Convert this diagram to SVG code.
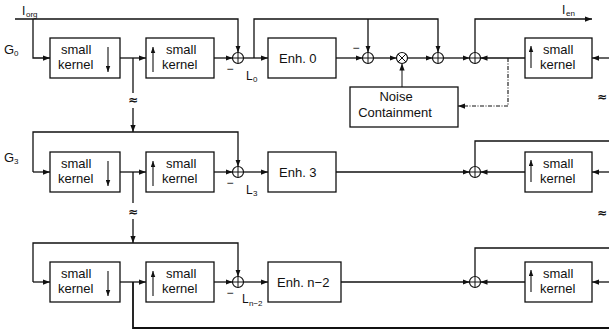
<svg xmlns="http://www.w3.org/2000/svg" width="609" height="334" viewBox="0 0 609 334">
<defs>
<marker id="a" viewBox="0 0 8 6" refX="8" refY="3" markerWidth="7" markerHeight="5.5" markerUnits="userSpaceOnUse" orient="auto"><path d="M0,0 L8,3 L0,6 z" fill="#111"/></marker>
<marker id="s" viewBox="0 0 8 6" refX="8" refY="3" markerWidth="6" markerHeight="5" markerUnits="userSpaceOnUse" orient="auto"><path d="M0,0 L8,3 L0,6 z" fill="#111"/></marker>
</defs>
<style>
.ln{fill:none;stroke:#111;stroke-width:1.3}
.ar{marker-end:url(#a)}
.bx{fill:#fff;stroke:#111;stroke-width:1.3}
.in{fill:none;stroke:#111;stroke-width:1.1;marker-end:url(#s)}
.t{font-family:"Liberation Sans",Arial,sans-serif;font-size:13px;fill:#111}
.sm{font-family:"Liberation Sans",Arial,sans-serif;font-size:8px;fill:#111}
.lb{font-family:"Liberation Sans",Arial,sans-serif;font-size:12px;fill:#111}
.ap{font-family:"DejaVu Sans",sans-serif;font-size:12px;font-weight:bold;fill:#111}
.op{fill:#fff;stroke:#111;stroke-width:1.2}
.dash{fill:none;stroke:#111;stroke-width:1.1;stroke-dasharray:4 1.5 1 1.5}
</style>
<rect width="609" height="334" fill="#fff"/>

<g id="connectors">
<!-- row 1 -->
<path class="ln ar" d="M15,19 H238 V52.5"/>
<path class="ln ar" d="M33,19 V58 H50"/>
<path class="ln ar" d="M120,58 H146"/>
<path class="ln" d="M133,58 V93"/>
<path class="ln ar" d="M133,108 V132"/>
<path class="ln ar" d="M214,58 H232.5"/>
<path class="ln ar" d="M243.5,58 H268"/>
<path class="ln ar" d="M254,58 V19 H438 V52.5"/>
<path class="ln ar" d="M368,19 V52.5"/>
<path class="ln ar" d="M336,58 H362.5"/>
<path class="ln ar" d="M373.5,58 H396.5"/>
<path class="ln ar" d="M407.5,58 H432.5"/>
<path class="ln ar" d="M443.5,58 H469.5"/>
<path class="ln ar" d="M525,58 H480.5"/>
<path class="ln ar" d="M475,52.5 V19 H592"/>
<path class="ln ar" d="M609,58 H592"/>
<path class="dash" d="M508,58 V106 H464"/>
<path class="ln ar" d="M464,106 H458" style="stroke-width:1"/>
<path class="ln ar" d="M402,87 V63.5" style="stroke-width:1"/>
<!-- row 2 -->
<path class="ln ar" d="M33,172 V132 H238 V166.5"/>
<path class="ln ar" d="M33,172 H50"/>
<path class="ln ar" d="M120,172 H146"/>
<path class="ln" d="M133,172 V203"/>
<path class="ln ar" d="M133,219 V243"/>
<path class="ln ar" d="M214,172 H232.5"/>
<path class="ln ar" d="M243.5,172 H268"/>
<path class="ln ar" d="M336,172 H469.5"/>
<path class="ln ar" d="M525,172 H480.5"/>
<path class="ln" d="M475,166.5 V141 H609"/>
<path class="ln ar" d="M609,172 H592"/>
<!-- row 3 -->
<path class="ln ar" d="M33,282 V243 H238 V276.5"/>
<path class="ln ar" d="M33,282 H50"/>
<path class="ln ar" d="M120,282 H146"/>
<path class="ln" d="M133,282 V328 H609" style="stroke-width:1.8"/>
<path class="ln ar" d="M214,282 H232.5"/>
<path class="ln ar" d="M243.5,282 H268"/>
<path class="ln ar" d="M341,282 H469.5"/>
<path class="ln ar" d="M525,282 H480.5"/>
<path class="ln" d="M475,276.5 V248 H609"/>
<path class="ln ar" d="M609,282 H592"/>
</g>

<g id="labels">
<text class="lb" x="22" y="15">I</text><text class="sm" x="26" y="17">org</text>
<text class="lb" x="562" y="14">I</text><text class="sm" x="566" y="16">en</text>
<text class="t" x="4" y="54">G</text><text class="sm" x="14" y="56">0</text>
<text class="t" x="4" y="162">G</text><text class="sm" x="14" y="164">3</text>
<text class="lb" x="246" y="80">L</text><text class="sm" x="253" y="82">0</text>
<text class="lb" x="246" y="194">L</text><text class="sm" x="253" y="196">3</text>
<text class="lb" x="242" y="303">L</text><text class="sm" x="249" y="306">n−2</text>
<text class="lb" x="230" y="73" text-anchor="middle">−</text>
<text class="lb" x="230" y="187" text-anchor="middle">−</text>
<text class="lb" x="230" y="297" text-anchor="middle">−</text>
<text class="lb" x="356" y="52" text-anchor="middle">−</text>
<text class="ap" x="133" y="104" text-anchor="middle">≈</text>
<text class="ap" x="133" y="216" text-anchor="middle">≈</text>
<text class="ap" x="597" y="101">≈</text>
<text class="ap" x="597" y="217">≈</text>
</g>

<!-- Row 1 nodes -->
<g id="r1_down"><rect class="bx" x="50" y="38" width="70" height="40"/><text class="t" x="61" y="54">small</text><text class="t" x="58" y="69">kernel</text><path class="in" d="M108,47 V72"/></g>
<g id="r1_up"><rect class="bx" x="146" y="38" width="68" height="40"/><path class="in" d="M153,72 V47"/><text class="t" x="166" y="54">small</text><text class="t" x="162" y="69">kernel</text></g>
<g id="r1_sub"><circle class="op" cx="238" cy="58" r="5.5"/><path class="ln" d="M232.5,58 H243.5 M238,52.5 V63.5" style="stroke-width:1"/></g>
<g id="enh0"><rect class="bx" x="268" y="38" width="68" height="40"/><text class="t" x="279" y="63">Enh. 0</text></g>
<g id="r1_add1"><circle class="op" cx="368" cy="58" r="5.5"/><path class="ln" d="M362.5,58 H373.5 M368,52.5 V63.5" style="stroke-width:1"/></g>
<g id="r1_mul"><circle class="op" cx="402" cy="58" r="5.5"/><path class="ln" d="M398.1,54.1 L405.9,61.9 M405.9,54.1 L398.1,61.9" style="stroke-width:1"/></g>
<g id="r1_add2"><circle class="op" cx="438" cy="58" r="5.5"/><path class="ln" d="M432.5,58 H443.5 M438,52.5 V63.5" style="stroke-width:1"/></g>
<g id="r1_add3"><circle class="op" cx="475" cy="58" r="5.5"/><path class="ln" d="M469.5,58 H480.5 M475,52.5 V63.5" style="stroke-width:1"/></g>
<g id="r1_upR"><rect class="bx" x="525" y="38" width="67" height="40"/><path class="in" d="M531,68 V46"/><text class="t" x="543" y="54">small</text><text class="t" x="540" y="69">kernel</text></g>
<g id="noise"><rect class="bx" x="350" y="87" width="108" height="40"/><text class="t" x="396" y="101" text-anchor="middle">Noise</text><text class="t" x="395" y="117" text-anchor="middle">Containment</text></g>

<!-- Row 2 nodes -->
<g id="r2_down"><rect class="bx" x="50" y="152" width="70" height="40"/><text class="t" x="61" y="168">small</text><text class="t" x="58" y="183">kernel</text><path class="in" d="M108,161 V186"/></g>
<g id="r2_up"><rect class="bx" x="146" y="152" width="68" height="40"/><path class="in" d="M153,186 V161"/><text class="t" x="166" y="168">small</text><text class="t" x="162" y="183">kernel</text></g>
<g id="r2_sub"><circle class="op" cx="238" cy="172" r="5.5"/><path class="ln" d="M232.5,172 H243.5 M238,166.5 V177.5" style="stroke-width:1"/></g>
<g id="enh3"><rect class="bx" x="268" y="152" width="68" height="40"/><text class="t" x="279" y="177">Enh. 3</text></g>
<g id="r2_add"><circle class="op" cx="475" cy="172" r="5.5"/><path class="ln" d="M469.5,172 H480.5 M475,166.5 V177.5" style="stroke-width:1"/></g>
<g id="r2_upR"><rect class="bx" x="525" y="152" width="67" height="40"/><path class="in" d="M531,182 V160"/><text class="t" x="543" y="168">small</text><text class="t" x="540" y="183">kernel</text></g>

<!-- Row 3 nodes -->
<g id="r3_down"><rect class="bx" x="50" y="262" width="70" height="40"/><text class="t" x="61" y="278">small</text><text class="t" x="58" y="293">kernel</text><path class="in" d="M108,271 V296"/></g>
<g id="r3_up"><rect class="bx" x="146" y="262" width="68" height="40"/><path class="in" d="M153,296 V271"/><text class="t" x="166" y="278">small</text><text class="t" x="162" y="293">kernel</text></g>
<g id="r3_sub"><circle class="op" cx="238" cy="282" r="5.5"/><path class="ln" d="M232.5,282 H243.5 M238,276.5 V287.5" style="stroke-width:1"/></g>
<g id="enhn2"><rect class="bx" x="268" y="262" width="73" height="40"/><text class="t" x="277" y="287">Enh. n−2</text></g>
<g id="r3_add"><circle class="op" cx="475" cy="282" r="5.5"/><path class="ln" d="M469.5,282 H480.5 M475,276.5 V287.5" style="stroke-width:1"/></g>
<g id="r3_upR"><rect class="bx" x="525" y="262" width="67" height="40"/><path class="in" d="M531,292 V270"/><text class="t" x="543" y="278">small</text><text class="t" x="540" y="293">kernel</text></g>
</svg>
